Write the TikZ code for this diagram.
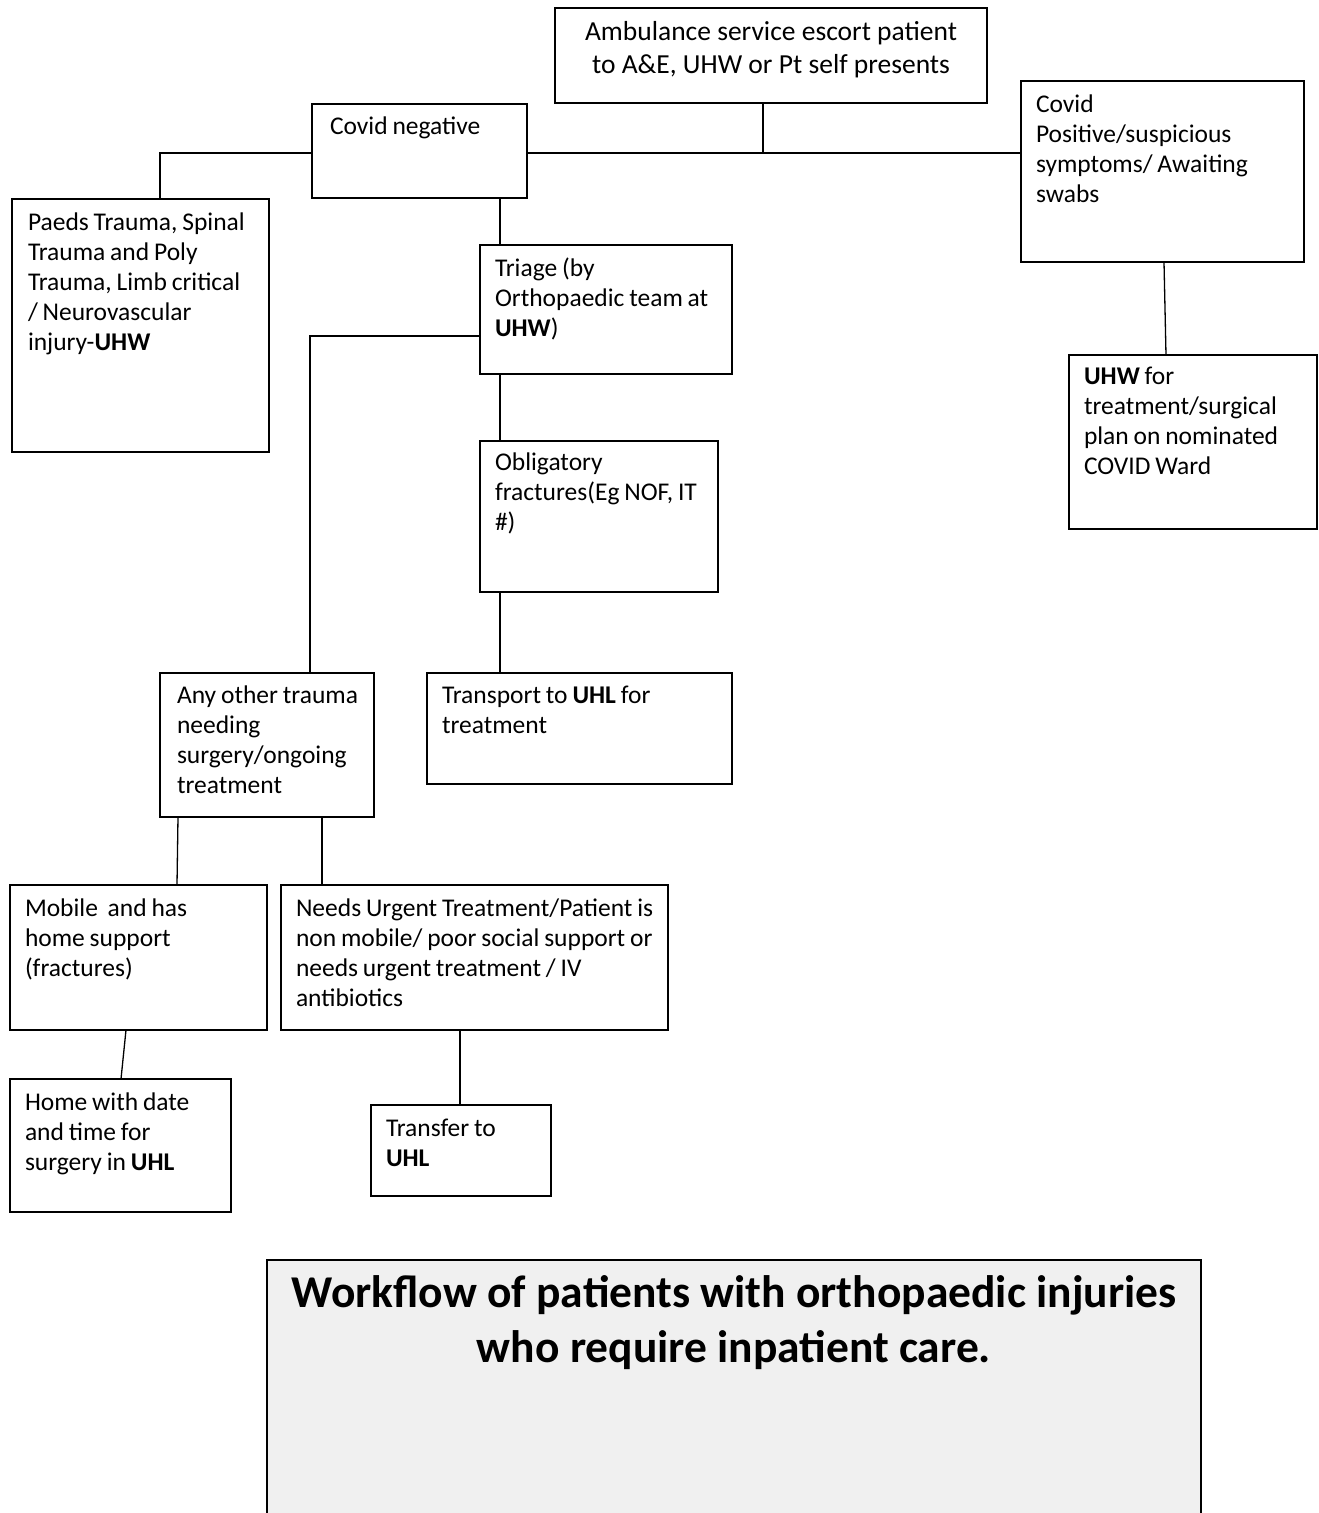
\documentclass[tikz,border=0pt]{standalone}
\usepackage{fontspec}
\setmainfont{Carlito}
\usetikzlibrary{calc}
\definecolor{titlefill}{HTML}{F0F0F0}
\newcommand{\boxtextfont}{\fontsize{25.5}{30}\selectfont\spaceskip=0.19em plus 0.05em minus 0.05em\relax}
\begin{document}
\begin{tikzpicture}[x=1pt,y=-1pt,
  box/.style={draw=black, rectangle, anchor=north west, inner sep=0pt, outer sep=0pt, line width=1.3pt},
  txt/.style={anchor=north west, inner sep=0pt, outer sep=0pt, align=left, font=\boxtextfont},
  conn/.style={draw=black, line width=1.3pt}
]
\clip (0,0) rectangle (1319,1513);
\fill[white] (0,0) rectangle (1319,1513);

% boxes
\node[box, minimum width=432pt, minimum height=95pt] (amb) at (555,8) {};
\node[box, minimum width=215pt, minimum height=94pt] (cneg) at (312,104) {};
\node[box, minimum width=283pt, minimum height=181pt] (cpos) at (1021,81) {};
\node[box, minimum width=257pt, minimum height=253pt] (paeds) at (12,199) {};
\node[box, minimum width=252pt, minimum height=129pt] (triage) at (480,245) {};
\node[box, minimum width=248pt, minimum height=174pt] (uhw) at (1069,355) {};
\node[box, minimum width=238pt, minimum height=151pt] (oblig) at (480,441) {};
\node[box, minimum width=214pt, minimum height=144pt] (other) at (160,673) {};
\node[box, minimum width=305pt, minimum height=111pt] (transport) at (427,673) {};
\node[box, minimum width=257pt, minimum height=145pt] (mobile) at (10,885) {};
\node[box, minimum width=387pt, minimum height=145pt] (needs) at (281,885) {};
\node[box, minimum width=221pt, minimum height=133pt] (home) at (10,1079) {};
\node[box, minimum width=180pt, minimum height=91pt] (transfer) at (371,1105) {};
\node[box, fill=titlefill, minimum width=934pt, minimum height=280pt] (title) at (267,1260) {};

% texts
\node[txt, anchor=north, align=center, font=\fontsize{27.5}{33}\selectfont] (amb-t) at (771,17)
  {\strut Ambulance service escort patient\\to A\&E, UHW or Pt self presents};
\node[txt] (cneg-t) at (330,113) {\strut Covid negative};
\node[txt] (cpos-t) at (1036,91) {\strut Covid\\Positive/suspicious\\symptoms/ Awaiting\\swabs};
\node[txt] (paeds-t) at (28,209) {\strut Paeds Trauma, Spinal\\Trauma and Poly\\Trauma, Limb critical\\/ Neurovascular\\injury-\textbf{UHW}};
\node[txt] (triage-t) at (495,255) {\strut Triage (by\\Orthopaedic team at\\\textbf{UHW})};
\node[txt] (uhw-t) at (1084,363) {\strut\textbf{UHW} for\\treatment/surgical\\plan on nominated\\COVID Ward};
\node[txt] (oblig-t) at (495,449) {\strut Obligatory\\fractures(Eg NOF, IT\\\#)};
\node[txt] (other-t) at (177,682) {\strut Any other trauma\\needing\\surgery/ongoing\\treatment};
\node[txt] (transport-t) at (442,682) {\strut Transport to \textbf{UHL} for\\treatment};
\node[txt] (mobile-t) at (25,895) {\strut Mobile\ \ and has\\home support\\(fractures)};
\node[txt] (needs-t) at (296,895) {\strut Needs Urgent Treatment/Patient is\\non mobile/ poor social support or\\needs urgent treatment / IV\\antibiotics};
\node[txt] (home-t) at (25,1089) {\strut Home with date\\and time for\\surgery in \textbf{UHL}};
\node[txt] (transfer-t) at (386,1115) {\strut Transfer to\\\textbf{UHL}};
\node[txt, anchor=north, align=center, font=\fontsize{45.5}{55}\selectfont\bfseries] (title-t) at (734,1269)
  {\strut Workflow of patients with orthopaedic injuries\\who require inpatient care.};

% connectors
\coordinate (j1) at (763,153);
\coordinate (c1) at (160,153);
\coordinate (x500) at (500,0);
\coordinate (c2) at (310,336);
\draw[conn] (j1 |- amb.south) -- (j1);
\draw[conn] (cneg.east |- j1) -- (cpos.west |- j1);
\draw[conn] (cneg.west |- c1) -| (c1 |- paeds.north);
\draw[conn] (x500 |- cneg.south) -- (x500 |- triage.north);
\draw[conn] (triage.west |- c2) -| (c2 |- other.north);
\draw[conn] (x500 |- triage.south) -- (x500 |- oblig.north);
\draw[conn] (x500 |- oblig.south) -- (x500 |- transport.north);
\draw[conn] ($(cpos.south west)+(143,0)$) -- ($(uhw.north west)+(97,0)$);
\draw[conn] ($(other.south west)+(18,0)$) -- ($(mobile.north west)+(167,0)$);
\draw[conn] ($(other.south west)+(162,0)$) -- ($(needs.north west)+(41,0)$);
\draw[conn] ($(mobile.south west)+(116,0)$) -- ($(home.north west)+(111,0)$);
\draw[conn] ($(needs.south west)+(179,0)$) -- ($(transfer.north west)+(89,0)$);
\end{tikzpicture}
\end{document}
